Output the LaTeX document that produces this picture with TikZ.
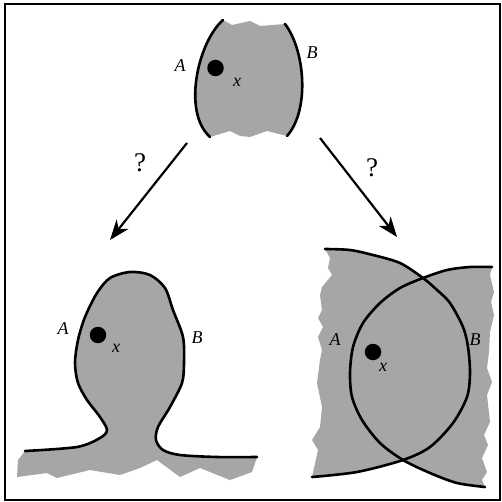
\documentclass[tikz,border=0pt]{standalone}
\usepackage{fontspec}
\setmainfont{Liberation Serif}
\usetikzlibrary{arrows.meta}
\definecolor{regiongray}{RGB}{166,166,166}
\tikzset{
  region/.style={fill=regiongray, draw=none},
  rim/.style={line width=2.6pt, line join=round, line cap=round},
  pointdot/.style={circle, fill=black, inner sep=0pt, minimum size=16.5pt},
  lbl/.style={font=\fontsize{18}{20}\selectfont\itshape, inner sep=0pt},
  qlbl/.style={font=\fontsize{27}{29}\selectfont, inner sep=0pt},
  mapto/.style={line width=2.2pt, -{Stealth[length=20pt,width=15pt,inset=6pt]}}
}
\begin{document}
\begin{tikzpicture}[x=1pt,y=-1pt]
\useasboundingbox (0,0) rectangle (502,502);
% frame
\draw[line width=2.2pt] (5,4) rectangle (500,500);

% ---- top piece: two boundary arcs A and B, torn above and below
\fill[region] (223,20) -- (232,25) -- (250,21) -- (260,26) -- (285,24)
  .. controls (305,50) and (310,110) .. (287,136)
  -- (267,131) -- (250,137) -- (240,136) -- (230,131) -- (220,134) -- (210,137)
  .. controls (182,112) and (198,42) .. (223,20) -- cycle;
\draw[rim] (223,20) .. controls (198,42) and (182,112) .. (210,137);
\draw[rim] (285,24) .. controls (305,50) and (310,110) .. (287,136);
\node[pointdot] (xtop) at (215.5,68) {};
\node[lbl] (Atop) at (180,66) {A};
\node[lbl] (Btop) at (312,53) {B};
\node[lbl] (xtopl) at (237,82) {x};

% ---- arrows with question marks
\coordinate (srcL) at (187,143);
\coordinate (dstL) at (110,240);
\coordinate (srcR) at (320,138);
\coordinate (dstR) at (397,237);
\draw[mapto] (srcL) -- (dstL);
\draw[mapto] (srcR) -- (dstR);
\node[qlbl] (qL) at (140,163) {?};
\node[qlbl] (qR) at (372,168) {?};

% ---- bottom left: the two arcs joined into a bulb over a torn base
\fill[region] plot[smooth] coordinates {
  (25,451) (77,447) (100,438) (107,430) (100,417) (87,400) (78,383) (75,363)
  (78,340) (85,317) (97,293) (110,278) (130,272) (150,275) (165,288) (173,310)
  (183,337) (184,363) (182,383) (170,407) (158,427) (156,440) (163,450)
  (180,455) (217,457) (257,457)}
  -- (252,472) -- (230,480) -- (200,468) -- (180,477) -- (157,460) -- (140,468)
  -- (120,475) -- (90,470) -- (57,478) -- (47,473) -- (17,477) -- (18,460) -- cycle;
\draw[rim] plot[smooth] coordinates {
  (25,451) (77,447) (100,438) (107,430) (100,417) (87,400) (78,383) (75,363)
  (78,340) (85,317) (97,293) (110,278) (130,272) (150,275) (165,288) (173,310)
  (183,337) (184,363) (182,383) (170,407) (158,427) (156,440) (163,450)
  (180,455) (217,457) (257,457)};
\node[pointdot] (xbl) at (98,335) {};
\node[lbl] (Abl) at (63,329) {A};
\node[lbl] (Bbl) at (197,338) {B};
\node[lbl] (xbll) at (116,348) {x};

% ---- bottom right: the two arcs cross twice inside a torn region
\fill[region] plot[smooth] coordinates {(325,249) (350,250) (373,255) (400,263) (423,278)}
  -- plot[smooth] coordinates {(423,278) (447,270) (470,267) (492,267)}
  -- (490,275) -- (494,292) -- (491,302) -- (494,315) -- (490,332) -- (489,352)
  -- (487,368) -- (492,382) -- (487,395) -- (490,422) -- (484,435) -- (488,445)
  -- (482,458) -- (487,472) -- (482,480) -- (485,487)
  -- plot[smooth] coordinates {(485,487) (457,483) (430,473) (403,460)}
  -- plot[smooth] coordinates {(403,460) (357,472) (312,477)}
  -- (318,450) -- (312,440) -- (320,427) -- (322,407) -- (317,383) -- (320,360)
  -- (322,350) -- (318,337) -- (323,327) -- (318,318) -- (322,310) -- (320,295)
  -- (322,287) -- (332,275) -- (328,268) -- (330,258) -- cycle;
\draw[rim] plot[smooth] coordinates {
  (312,477) (357,472) (403,460) (430,447) (453,423) (467,397) (470,373)
  (468,347) (463,327) (450,303) (437,290) (423,278) (400,263) (373,255)
  (350,250) (325,249)};
\draw[rim] plot[smooth] coordinates {
  (485,487) (457,483) (430,473) (403,460) (380,443) (362,420) (352,397)
  (350,373) (353,347) (363,323) (380,303) (400,288) (423,278) (447,270)
  (470,267) (492,267)};
\node[pointdot] (xbr) at (373,352) {};
\node[lbl] (Abr) at (335,340) {A};
\node[lbl] (Bbr) at (475,340) {B};
\node[lbl] (xbrl) at (383,367) {x};
\end{tikzpicture}
\end{document}
